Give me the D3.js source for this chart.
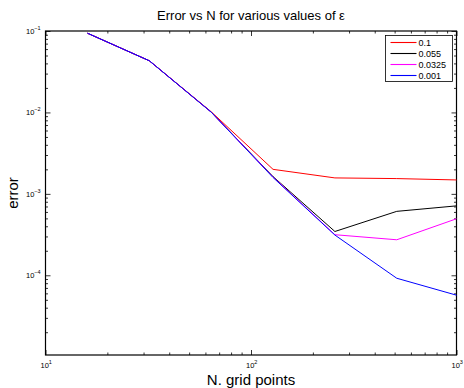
<!DOCTYPE html>
<html lang="en">
	<head>
		<meta charset="utf-8">
		<title>Error vs N</title>
		<script type="text/javascript" src="https://cdn.jsdelivr.net/npm/d3@7"></script>
		<style type="text/css">
			body { margin: 0; background: #fff; }
			text { font-family: "Liberation Sans", Arial, sans-serif; fill: #000; }
		</style>
	</head>
	<body>
		<script type="text/javascript">
			var w = 464;
			var h = 388;

			// grid sizes
			var gridN = [16, 32, 64, 128, 256, 512, 1024];
			// epsilon values (legend)
			var epsLabels = ["0.1", "0.055", "0.0325", "0.001"];
			var colors = ["#ff0000", "#000000", "#ff00ff", "#0000ff"];
			// error for each epsilon
			var err01 = [0.094, 0.0431, 0.0102, 0.00200, 0.00157, 0.00154, 0.00148];
			var err0055 = [0.094, 0.0431, 0.0101, 0.00163, 0.000345, 0.00061, 0.000716];
			var err00325 = [0.094, 0.0431, 0.0101, 0.00161, 0.000315, 0.000273, 0.000505];
			var err0001 = [0.094, 0.0431, 0.0101, 0.00159, 0.000312, 0.000092, 0.000056];
			var xTicks = [10, 100, 1000];
			var yTicks = [1e-1, 1e-2, 1e-3, 1e-4];

			var series = [err01, err0055, err00325, err0001];

			// plot box (note: "top" is taken by window.top)
			var pLeft = 45.5, pRight = 456.5, pTop = 31, pBottom = 355;

			var xScale = d3.scaleLog()
							.domain([10, 1000])
							.range([pLeft, pRight]);
			var yScale = d3.scaleLog()
							.domain([1.05e-5, 0.1])
							.range([pBottom, pTop]);

			var svg = d3.select("body")
							.append("svg")
							.attr("width", w)
							.attr("height", h);

			//minor tick values
			var xMinor = [], yMinor = [];
			[10, 100].forEach(function(d) {
				for (var k = 2; k <= 9; k++) xMinor.push(d * k);
			});
			[1e-5, 1e-4, 1e-3, 1e-2].forEach(function(d) {
				for (var k = 2; k <= 9; k++) yMinor.push(d * k);
			});
			yMinor = yMinor.filter(function(d) { return d >= 1.05e-5; });

			function drawAxis(axisFn, scale, vals, size, tx, ty) {
				var g = svg.append("g")
					.attr("transform", "translate(" + tx + "," + ty + ")")
					.call(axisFn(scale).tickValues(vals).tickSize(-size).tickSizeOuter(0).tickFormat(""));
				g.select(".domain").remove();
				g.selectAll("line").attr("stroke", "#000").attr("stroke-width", 0.8);
			}
			//ticks on all four sides, pointing inwards
			drawAxis(d3.axisBottom, xScale, xTicks, 5, 0, pBottom);
			drawAxis(d3.axisBottom, xScale, xMinor, 2.5, 0, pBottom);
			drawAxis(d3.axisTop, xScale, xTicks, 5, 0, pTop);
			drawAxis(d3.axisTop, xScale, xMinor, 2.5, 0, pTop);
			drawAxis(d3.axisLeft, yScale, yTicks, 5, pLeft, 0);
			drawAxis(d3.axisLeft, yScale, yMinor, 2.5, pLeft, 0);
			drawAxis(d3.axisRight, yScale, yTicks, 5, pRight, 0);
			drawAxis(d3.axisRight, yScale, yMinor, 2.5, pRight, 0);

			//box
			svg.append("rect")
				.attr("x", pLeft)
				.attr("y", pTop)
				.attr("width", pRight - pLeft)
				.attr("height", pBottom - pTop)
				.attr("fill", "none")
				.attr("stroke", "#000")
				.attr("stroke-width", 1.2);

			//tick labels with exponents
			var xl = svg.selectAll("text.xl")
				.data(xTicks)
				.enter()
				.append("text")
				.attr("class", "xl")
				.attr("x", function(d) { return xScale(d) - 5; })
				.attr("y", 368)
				.attr("font-size", "7.5px");
			xl.append("tspan").text("10");
			xl.append("tspan")
				.attr("dy", -4)
				.attr("font-size", "5.5px")
				.text(function(d) { return Math.round(Math.log10(d)); });

			var yl = svg.selectAll("text.yl")
				.data(yTicks)
				.enter()
				.append("text")
				.attr("class", "yl")
				.attr("x", 26)
				.attr("y", function(d) { return yScale(d) + 3; })
				.attr("font-size", "7.5px");
			yl.append("tspan").text("10");
			yl.append("tspan")
				.attr("dy", -4)
				.attr("font-size", "5.5px")
				.text(function(d) { return "\u2212" + Math.round(-Math.log10(d)); });

			//lines
			svg.append("clipPath")
				.attr("id", "clip")
				.append("rect")
				.attr("x", pLeft)
				.attr("y", pTop)
				.attr("width", pRight - pLeft)
				.attr("height", pBottom - pTop);

			var line = d3.line()
				.x(function(d, i) { return xScale(gridN[i]); })
				.y(function(d) { return yScale(d); });

			svg.append("g")
				.attr("clip-path", "url(#clip)")
				.selectAll("path")
				.data(series)
				.enter()
				.append("path")
				.attr("d", line)
				.attr("fill", "none")
				.attr("stroke", function(d, i) { return colors[i]; })
				.attr("stroke-width", 1);

			//legend
			var lx = 385.5, ly = 35.5;
			svg.append("rect")
				.attr("x", lx)
				.attr("y", ly)
				.attr("width", 67)
				.attr("height", 46)
				.attr("fill", "#fff")
				.attr("stroke", "#000")
				.attr("stroke-width", 0.8);
			var items = svg.selectAll("g.leg")
				.data(epsLabels)
				.enter()
				.append("g")
				.attr("class", "leg")
				.attr("transform", function(d, i) {
					return "translate(" + lx + "," + (ly + 7 + i * 11) + ")";
				});
			items.append("path")
				.attr("d", "M5,0H31")
				.style("stroke", function(d, i) { return colors[i]; })
				.style("stroke-width", 1.1)
				.style("fill", "none");
			items.append("text")
				.attr("x", 33)
				.attr("y", 3.3)
				.attr("font-size", "9px")
				.text(function(d) { return d; });

			//title and axis labels
			svg.append("text")
				.attr("x", 251)
				.attr("y", 20)
				.attr("text-anchor", "middle")
				.attr("font-size", "13px")
				.text("Error vs N for various values of \u03b5");
			svg.append("text")
				.attr("x", 251)
				.attr("y", 385)
				.attr("text-anchor", "middle")
				.attr("font-size", "15px")
				.text("N. grid points");
			svg.append("text")
				.attr("transform", "translate(18,193) rotate(-90)")
				.attr("text-anchor", "middle")
				.attr("font-size", "15px")
				.text("error");
		</script>
	</body>
</html>
